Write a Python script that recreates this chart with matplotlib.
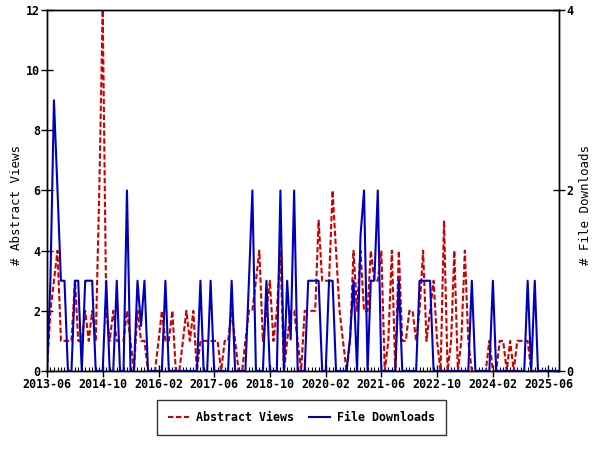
import matplotlib
matplotlib.use("Agg")
import matplotlib.pyplot as plt
import pandas as pd

# monthly counts, 2013-06 .. 2025-09
abstract_views = [
    0, 2, 3, 4, 1, 1, 1, 1, 3, 1,
    1, 2, 1, 2, 1, 6, 12, 2, 1, 2,
    1, 1, 1, 2, 1, 0, 2, 1, 1, 0,
    0, 0, 1, 2, 1, 1, 2, 0, 0, 1,
    2, 1, 2, 0, 1, 1, 1, 1, 1, 1,
    0, 1, 1, 2, 1, 0, 0, 1, 2, 2,
    3, 4, 1, 2, 3, 1, 2, 4, 0, 1,
    2, 2, 1, 0, 2, 2, 2, 2, 5, 3,
    3, 3, 6, 4, 2, 1, 0, 1, 4, 2,
    4, 2, 2, 4, 3, 3, 4, 0, 1, 4,
    0, 4, 1, 1, 2, 2, 1, 2, 4, 1,
    2, 3, 1, 0, 5, 0, 1, 4, 0, 1,
    4, 1, 0, 0, 0, 0, 0, 1, 0, 0,
    1, 1, 0, 1, 0, 1, 1, 1, 1, 0,
    0, 0, 0, 0, 0, 0, 0, 0,
]
file_downloads = [
    0, 1, 3, 2, 1, 1, 0, 0, 1, 1,
    0, 1, 1, 1, 0, 0, 0, 1, 0, 0,
    1, 0, 0, 2, 0, 0, 1, 0.5, 1, 0,
    0, 0, 0, 0, 1, 0, 0, 0, 0, 0,
    0, 0, 0, 0, 1, 0, 0, 1, 0, 0,
    0, 0, 0, 1, 0, 0, 0, 0, 1, 2,
    0, 0, 0, 1, 0, 0, 0, 2, 0, 1,
    0.35, 2, 0, 0, 0, 1, 1, 1, 1, 0,
    0, 1, 1, 0, 0, 0, 0, 0.37, 1, 0,
    1.5, 2, 0, 1, 1, 2, 0, 0, 0, 0,
    0, 1, 0, 0, 0, 0, 0, 1, 1, 1,
    1, 0, 0, 0, 0, 0, 0, 0, 0, 0,
    0, 0, 1, 0, 0, 0, 0, 0, 1, 0,
    0, 0, 0, 0, 0, 0, 0, 0, 1, 0,
    1, 0, 0, 0, 0, 0, 0, 0,
]
tick_labels = ['2013-06', '2014-10', '2016-02', '2017-06', '2018-10',
               '2020-02', '2021-06', '2022-10', '2024-02', '2025-06']

months = pd.date_range('2013-06-01', periods=len(abstract_views), freq='MS')

font = {'family': 'DejaVu Sans Mono', 'weight': 'bold', 'size': 8.4}
title_font = {'family': 'DejaVu Sans Mono', 'weight': 'normal', 'size': 9}
red = '#cc0000'
blue = '#0000bb'

fig = plt.figure(figsize=(6, 4.5), dpi=100)
ax = fig.add_axes([0.0783, 0.1756, 0.8534, 0.8022])
ax2 = ax.twinx()

l1, = ax.plot(months, abstract_views, color=red, lw=1.5, ls=(0, (2.6, 1.2)), label='Abstract Views')
l2, = ax2.plot(months, file_downloads, color=blue, lw=1.5, label='File Downloads')

ax.set_xlim(months[0], months[-1])
ax.set_ylim(0, 12)
ax2.set_ylim(0, 4)
ax.set_yticks(range(0, 13, 2))
ax2.set_yticks([0, 2, 4])

ax.set_xticks(pd.to_datetime(tick_labels))
ax.set_xticklabels(tick_labels, fontdict=font)
ax.set_xticks(months, minor=True)
ax.set_yticklabels([str(v) for v in range(0, 13, 2)], fontdict=font)
ax2.set_yticklabels(['0', '2', '4'], fontdict=font)

ax.tick_params(axis='both', which='major', direction='inout', length=8, width=1, pad=1)
ax.tick_params(axis='x', which='minor', direction='in', length=3, width=0.8)
ax2.tick_params(axis='y', which='major', direction='inout', length=8, width=1, pad=1)

ax.set_ylabel('# Abstract Views', fontdict=title_font)
ax2.set_ylabel('# File Downloads', fontdict=title_font)
ax.yaxis.set_label_coords(-24 / 512, 0.46)
ax2.yaxis.set_label_coords(1 + 20 / 512, 0.46)

for a in (ax, ax2):
    for s in a.spines.values():
        s.set_linewidth(1)

leg = fig.legend(handles=[l1, l2], loc='center', bbox_to_anchor=(0.502, 0.073), ncol=2,
                 prop=font, frameon=True, fancybox=False, edgecolor='black',
                 borderpad=0.95, handlelength=1.8, handletextpad=0.6,
                 columnspacing=1.3, borderaxespad=0)
leg.get_frame().set_linewidth(1)

fig.savefig('out.png', dpi=100)
